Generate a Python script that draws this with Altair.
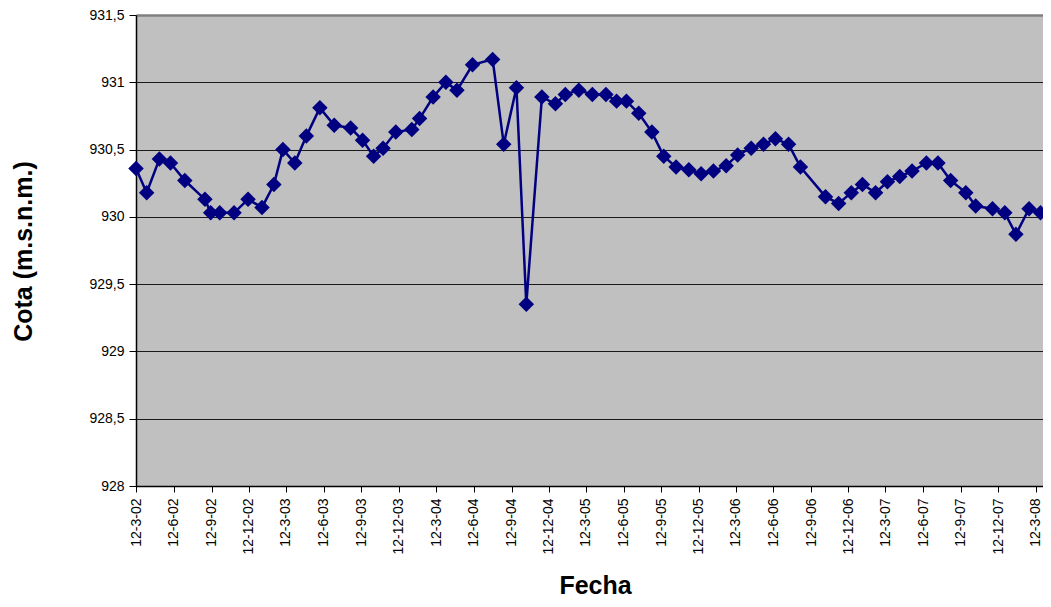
import altair as alt
import pandas as pd

fechas = [
    "2002-03-12", "2002-04-07", "2002-05-08", "2002-06-04", "2002-07-09", "2002-08-27",
    "2002-09-10", "2002-10-02", "2002-11-06", "2002-12-10", "2003-01-13", "2003-02-11",
    "2003-03-05", "2003-04-03", "2003-05-01", "2003-06-03", "2003-07-08", "2003-08-17",
    "2003-09-15", "2003-10-12", "2003-11-04", "2003-12-05", "2004-01-13", "2004-02-01",
    "2004-03-05", "2004-04-05", "2004-05-02", "2004-06-09", "2004-07-28", "2004-08-24",
    "2004-09-24", "2004-10-18", "2004-11-25", "2004-12-28", "2005-01-21", "2005-02-23",
    "2005-03-28", "2005-04-30", "2005-05-26", "2005-06-19", "2005-07-19", "2005-08-20",
    "2005-09-18", "2005-10-18", "2005-11-18", "2005-12-18", "2006-01-17", "2006-02-17",
    "2006-03-17", "2006-04-19", "2006-05-19", "2006-06-17", "2006-07-19", "2006-08-17",
    "2006-10-17", "2006-11-18", "2006-12-19", "2007-01-15", "2007-02-16", "2007-03-17",
    "2007-04-16", "2007-05-16", "2007-06-20", "2007-07-18", "2007-08-18", "2007-09-24",
    "2007-10-18", "2007-11-28", "2007-12-28", "2008-01-24", "2008-02-25", "2008-03-24",
    "2008-04-20",
]
cota = [
    930.36, 930.18, 930.43, 930.40, 930.27, 930.13,
    930.03, 930.03, 930.03, 930.13, 930.07, 930.24,
    930.50, 930.40, 930.60, 930.81, 930.68, 930.66,
    930.57, 930.45, 930.51, 930.63, 930.65, 930.73,
    930.89, 931.00, 930.94, 931.13, 931.17, 930.54,
    930.96, 929.35, 930.89, 930.84, 930.91, 930.94,
    930.91, 930.91, 930.86, 930.86, 930.77, 930.63,
    930.45, 930.37, 930.35, 930.32, 930.34, 930.38,
    930.46, 930.51, 930.54, 930.58, 930.54, 930.37,
    930.15, 930.10, 930.18, 930.24, 930.18, 930.26,
    930.30, 930.34, 930.40, 930.40, 930.27, 930.18,
    930.08, 930.06, 930.03, 929.87, 930.06, 930.03,
    930.10,
]
x_ticks = [(y, m) for y in range(2002, 2009) for m in (3, 6, 9, 12)
           if (y, m) >= (2002, 3) and (y, m) <= (2008, 3)]
y_ticks = [928, 928.5, 929, 929.5, 930, 930.5, 931, 931.5]

df = pd.DataFrame({"fecha": fechas, "cota": cota})

FONT = "Liberation Sans"
NAVY = "#000080"

x_enc = alt.X(
    "fecha:T",
    scale=alt.Scale(
        type="utc",
        nice=False,
        domain=[alt.DateTime(year=2002, month=3, date=12, utc=True),
                alt.DateTime(year=2008, month=3, date=30, utc=True)],
    ),
    axis=alt.Axis(
        values=[alt.DateTime(year=y, month=m, date=12, utc=True) for y, m in x_ticks],
        labelExpr="utcFormat(datum.value, '%-d-%-m-%y')",
        labelAngle=270,
        labelFont=FONT,
        labelFontSize=14,
        labelColor="black",
        labelPadding=6,
        labelOverlap=False,
        labelFlush=False,
        tickColor="black",
        tickSize=6,
        domainColor="black",
        domainWidth=1.5,
        grid=False,
        title="Fecha",
        titleFont=FONT,
        titleFontSize=25,
        titleFontWeight="bold",
        titleColor="black",
        titleAlign="center",
        titleBaseline="alphabetic",
        titleX=459,
        titleY=107,
    ),
)

y_enc = alt.Y(
    "cota:Q",
    scale=alt.Scale(domain=[928, 931.5], nice=False, zero=False),
    axis=alt.Axis(
        values=y_ticks,
        labelExpr="replace(toString(datum.value), '.', ',')",
        labelFont=FONT,
        labelFontSize=14,
        labelColor="black",
        labelPadding=5,
        tickColor="black",
        tickSize=7,
        domainColor="black",
        domainWidth=1.5,
        grid=True,
        gridColor={"condition": {"test": "datum.value === 931.5", "value": "#808080"}, "value": "#1a1a1a"},
        gridWidth={"condition": {"test": "datum.value === 931.5", "value": 2.5}, "value": 1},
        title="Cota (m.s.n.m.)",
        titleFont=FONT,
        titleFontSize=25,
        titleFontWeight="bold",
        titleColor="black",
        titleAlign="center",
        titleBaseline="alphabetic",
        titleAngle=270,
        titleX=-105,
        titleY=236,
    ),
)

base = alt.Chart(df).encode(x=x_enc, y=y_enc)
line = base.mark_line(color=NAVY, strokeWidth=2.5)
points = base.mark_point(shape="diamond", filled=True, color=NAVY, size=240, opacity=1)

chart = (
    alt.layer(line, points)
    .properties(
        width=907,
        height=471,
        autosize=alt.AutoSizeParams(type="none"),
        padding={"left": 128, "top": 7, "right": 0, "bottom": 112},
        background="white",
    )
    .configure_view(fill="#C0C0C0", stroke=None, strokeWidth=0)
)

chart.save("out.html", embed_options={"renderer": "svg", "actions": False})
